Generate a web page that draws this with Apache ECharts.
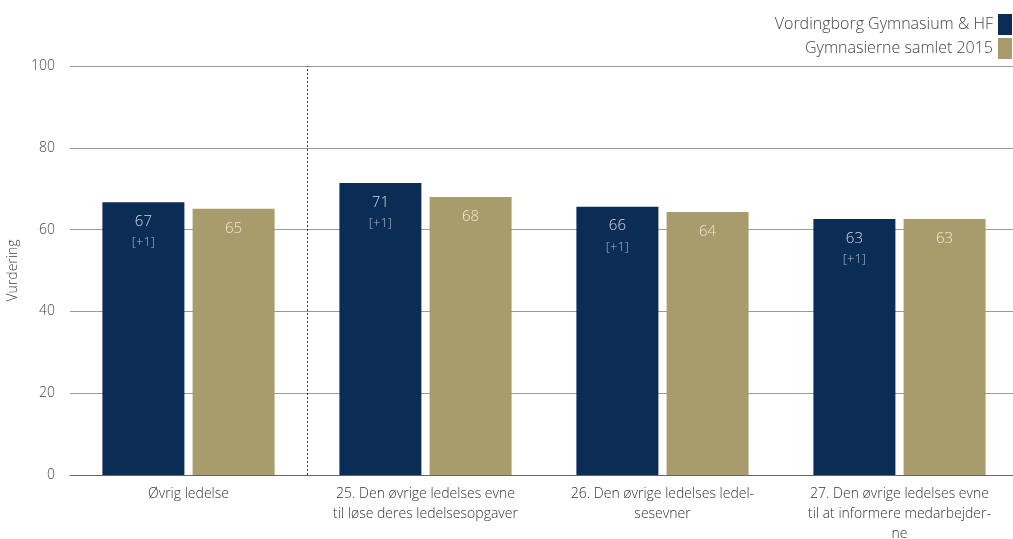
<!DOCTYPE html>
<html><head><meta charset="utf-8">
<script src="https://cdn.jsdelivr.net/npm/echarts@6/dist/echarts.min.js"></script>
<style>html,body{margin:0;padding:0;background:#fff}#c{width:1013px;height:539px}</style>
</head><body><div id="c"></div>
<script>
const categories = [
  "Øvrig ledelse",
  "25. Den øvrige ledelses evne\ntil løse deres ledelsesopgaver",
  "26. Den øvrige ledelses ledel-\nsesevner",
  "27. Den øvrige ledelses evne\ntil at informere medarbejder-\nne"
];
const seriesNames = ["Vordingborg Gymnasium & HF", "Gymnasierne samlet 2015"];
const schoolValues = [66.7, 71.4, 65.6, 62.6];
const schoolLabels = ["67", "71", "66", "63"];
const schoolDiffs = ["[+1]", "[+1]", "[+1]", "[+1]"];
const nationalValues = [65.1, 68.0, 64.3, 62.6];
const nationalLabels = ["65", "68", "64", "63"];
const yTicks = [0, 20, 40, 60, 80, 100];
const dividerAfterCategories = 1; // dotted separator after the first category

const FONT = "Open Sans";
const chart = echarts.init(document.getElementById('c'));
chart.setOption({
  animation: false,
  textStyle: { fontFamily: FONT },
  legend: {
    orient: 'vertical', right: -4, top: 9, align: 'right', icon: 'rect',
    itemWidth: 14, itemHeight: 21, itemGap: 3,
    textStyle: { fontFamily: FONT, fontSize: 16, color: '#444', fontWeight: 300 },
    data: seriesNames
  },
  grid: { left: 70, top: 66, width: 948, height: 409, outerBoundsMode: 'none', containLabel: false },
  xAxis: [{
    type: 'category', data: categories,
    axisTick: { show: false },
    axisLine: { lineStyle: { color: '#666', width: 1 } },
    axisLabel: { fontFamily: FONT, fontSize: 14, color: '#333', lineHeight: 20, margin: 9, interval: 0, fontWeight: 300 },
    splitLine: { show: false }
  }, {
    type: 'value', min: 0, max: categories.length, show: false, position: 'bottom'
  }],
  yAxis: {
    type: 'value', min: 0, max: 100, interval: 20,
    name: 'Vurdering', nameLocation: 'middle', nameGap: 50, nameRotate: 90,
    nameTextStyle: { fontFamily: FONT, fontSize: 14, color: '#444', fontWeight: 300 },
    axisLine: { show: false }, axisTick: { show: false },
    axisLabel: { fontFamily: FONT, fontSize: 14, color: '#444', margin: 15, fontWeight: 300,
      formatter: (v) => yTicks.includes(v) ? String(v) : '' },
    splitLine: { lineStyle: { color: '#999', width: 1 } }
  },
  series: [
    {
      name: seriesNames[0], type: 'bar', data: schoolValues, barWidth: 82, barGap: '10%',
      itemStyle: { color: '#0b2d55' },
      label: { show: true, position: 'insideTop', distance: 9, color: '#d7dde6',
        formatter: (p) => '{a|' + schoolLabels[p.dataIndex] + '}\n{b|' + schoolDiffs[p.dataIndex] + '}',
        rich: { a: { fontFamily: FONT, fontSize: 15, color: '#d0d7e1', lineHeight: 21, fontWeight: 300 },
                b: { fontFamily: FONT, fontSize: 13, color: '#aab5c5', lineHeight: 21, fontWeight: 300 } } }
    },
    {
      name: seriesNames[1], type: 'bar', data: nationalValues, barWidth: 82,
      itemStyle: { color: '#a89c6c' },
      label: { show: true, position: 'insideTop', distance: 12, color: '#efe8d2', fontFamily: FONT, fontSize: 15, fontWeight: 300,
        formatter: (p) => nationalLabels[p.dataIndex] }
    },
    {
      name: 'divider', type: 'line', xAxisIndex: 1, data: [], silent: true,
      markLine: {
        symbol: 'none', silent: true, label: { show: false },
        lineStyle: { type: [2, 2], color: '#333', width: 1 },
        data: [{ xAxis: dividerAfterCategories }]
      }
    }
  ]
});
</script></body></html>
